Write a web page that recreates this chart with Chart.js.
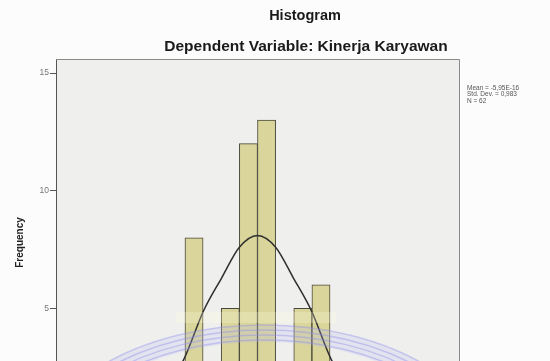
<!DOCTYPE html>
<html>
<head>
<meta charset="utf-8">
<script src="https://cdn.jsdelivr.net/npm/chart.js@4.4.0/dist/chart.umd.min.js"></script>
<style>
  html, body { margin: 0; padding: 0; background: #fcfcfc; overflow: hidden; }
  #wrap { width: 550px; height: 470px; }
</style>
</head>
<body>
<div id="wrap"><canvas id="hist" width="550" height="470"></canvas></div>
<script>
// Datos del histograma (residuos estandarizados)
const binCenters = [-1.26, -0.90, -0.54, -0.18, 0.18, 0.54, 0.90, 1.26];
const frequencies = [8, 0, 5, 12, 13, 0, 5, 6];

// Curva normal
const curveX = [-1.83, -1.47, -1.07, -0.71, -0.36, 0, 0.36, 0.71, 1.07, 1.47, 1.83];
const curveY = [1.6, 2.8, 4.9, 6.3, 7.6, 8.1, 7.6, 6.3, 4.9, 2.8, 1.6];

const yTicks = [5, 10, 15];
const titleText = 'Histogram';
const subtitleText = 'Dependent Variable: Kinerja Karyawan';
const statsLines = ['Mean = -5,95E-16', 'Std. Dev. = 0,983', 'N = 62'];

const FONT = '"Liberation Sans", Arial, sans-serif';

// Fondo, marco, titulos y marca de agua
const decor = {
    id: 'decor',
    beforeDraw(chart) {
        const { ctx, chartArea: a } = chart;
        ctx.save();
        ctx.fillStyle = '#fcfcfc';
        ctx.fillRect(0, 0, chart.width, chart.height);
        ctx.fillStyle = '#efefed';
        ctx.fillRect(a.left, a.top, a.right - a.left, a.bottom - a.top);
        ctx.restore();
    },
    afterDatasetsDraw(chart) {
        const { ctx, chartArea: a } = chart;
        ctx.save();
        // marco superior y derecho
        ctx.strokeStyle = '#8a8a8a';
        ctx.lineWidth = 1;
        ctx.beginPath();
        ctx.moveTo(a.left, a.top + 0.5);
        ctx.lineTo(a.right + 0.5, a.top + 0.5);
        ctx.lineTo(a.right + 0.5, a.bottom);
        ctx.stroke();

        // marca de agua (logo)
        const cx = 264, cy = 472;
        ctx.fillStyle = 'rgba(180,180,250,0.2)';
        ctx.beginPath();
        ctx.ellipse(cx, cy, 235, 147, 0, Math.PI, 2 * Math.PI);
        ctx.ellipse(cx, cy, 215, 130, 0, 2 * Math.PI, Math.PI, true);
        ctx.fill();
        ctx.strokeStyle = 'rgba(140,140,235,0.4)';
        ctx.lineWidth = 1.5;
        for (let i = 0; i < 4; i++) {
            ctx.beginPath();
            ctx.ellipse(cx, cy, 235 - i * 6, 147 - i * 5, 0, Math.PI, 2 * Math.PI);
            ctx.stroke();
        }
        ctx.fillStyle = 'rgba(255,255,225,0.25)';
        ctx.fillRect(176, 312, 160, 11);
        ctx.restore();
    },
    afterDraw(chart) {
        const { ctx } = chart;
        ctx.save();
        ctx.fillStyle = '#1a1a1a';
        ctx.textAlign = 'center';
        ctx.textBaseline = 'middle';
        ctx.font = 'bold 14.5px ' + FONT;
        ctx.fillText(titleText, 305, 16);
        ctx.font = 'bold 15.5px ' + FONT;
        ctx.fillText(subtitleText, 306, 47);

        ctx.textAlign = 'left';
        ctx.font = '6.5px ' + FONT;
        ctx.fillStyle = '#555';
        statsLines.forEach((t, i) => ctx.fillText(t, 467, 88 + i * 6.5));
        ctx.restore();
    }
};

const ctx = document.getElementById('hist');
new Chart(ctx, {
    type: 'bar',
    data: {
        datasets: [{
            type: 'line',
            data: curveX.map((x, i) => ({ x: x, y: curveY[i] })),
            borderColor: '#2e2e2e',
            borderWidth: 1.5,
            pointRadius: 0,
            tension: 0.4,
            cubicInterpolationMode: 'monotone',
            order: 1
        }, {
            type: 'bar',
            data: binCenters.map((x, i) => ({ x: x, y: frequencies[i] })),
            backgroundColor: '#d9d59b',
            borderColor: '#4a4838',
            borderWidth: 1,
            barPercentage: 1,
            categoryPercentage: 1,
            order: 2
        }]
    },
    options: {
        responsive: false,
        animation: false,
        layout: { padding: { top: 59, right: 91, left: 0, bottom: 0 } },
        plugins: {
            legend: { display: false },
            tooltip: { enabled: false }
        },
        scales: {
            x: {
                type: 'linear',
                min: -4,
                max: 4,
                offset: false,
                grid: { display: false, drawTicks: true },
                border: { color: '#555' },
                ticks: { stepSize: 1, font: { size: 8, family: FONT }, color: '#666' },
                title: { display: true, text: 'Regression Standardized Residual', font: { size: 10, weight: 'bold', family: FONT }, color: '#222' },
                afterFit(scale) { scale.height = 44; }
            },
            y: {
                min: 0,
                max: 15.6,
                afterBuildTicks(scale) {
                    scale.ticks = yTicks.map(v => ({ value: v }));
                },
                ticks: {
                    includeBounds: false,
                    padding: 1,
                    font: { size: 8.5, family: FONT },
                    color: '#777'
                },
                grid: { drawOnChartArea: false, drawTicks: true, tickLength: 6, color: '#555' },
                border: { color: '#555', width: 1 },
                title: {
                    display: true,
                    text: 'Frequency',
                    font: { size: 10, weight: 'bold', family: FONT },
                    color: '#222',
                    padding: { top: 14, bottom: 0 }
                },
                afterFit(scale) { scale.width = 56; }
            }
        }
    },
    plugins: [decor]
});
</script>
</body>
</html>
